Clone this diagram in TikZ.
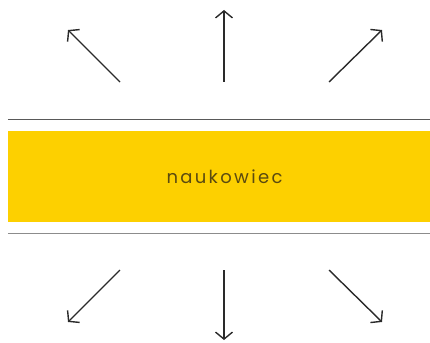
\documentclass[tikz,border=0pt]{standalone}
\usepackage{fontspec}
\setmainfont{Poppins}
\newfontfamily\bandfont[LetterSpace=13]{Poppins}
\usetikzlibrary{arrows.meta,positioning}
\definecolor{bandyellow}{HTML}{FDD000}
\definecolor{inkgray}{HTML}{2A2A2A}
\definecolor{bandtext}{HTML}{5A4A10}

\begin{document}
\begin{tikzpicture}[x=1pt, y=-1pt,
    ray/.style={line width=1.4pt, inkgray,
      -{Straight Barb[length=7pt, width=17pt, line width=1.4pt]}},
    band/.style={fill=bandyellow, minimum width=433pt, minimum height=91pt,
      inner sep=0pt, text=bandtext, font=\bandfont\fontsize{18pt}{21pt}\selectfont},
    rule/.style={line width=1.3pt, black!65} ]
    \useasboundingbox (0,0) rectangle (430,342);

    % Yellow band in the middle (runs off the right edge)
    \node[band] (role) at (224.5,176.5) {naukowiec};

    % Rules above and below
    \draw[rule] ([yshift=11pt]role.north west) -- ([yshift=11pt]role.north east);
    \draw[rule, black!45] ([yshift=-11pt]role.south west) -- ([yshift=-11pt]role.south east);

    % Ray ends
    \coordinate (ul0) at (120,82); \coordinate (ul) at (68,30);
    \coordinate (u0) at (224,82); \coordinate (u) at (224,10);
    \coordinate (ur0) at (329,82); \coordinate (ur) at (382,30);
    \coordinate (dl0) at (120,270); \coordinate (dl) at (68,322);
    \coordinate (d0) at (224,270); \coordinate (d) at (224,340);
    \coordinate (dr0) at (329,270); \coordinate (dr) at (382,322);

    % Rays going out
    \foreach \a/\b in {ul0/ul, u0/u, ur0/ur, dl0/dl, d0/d, dr0/dr}
      \draw[ray] (\a) -- (\b);
\end{tikzpicture}
\end{document}
